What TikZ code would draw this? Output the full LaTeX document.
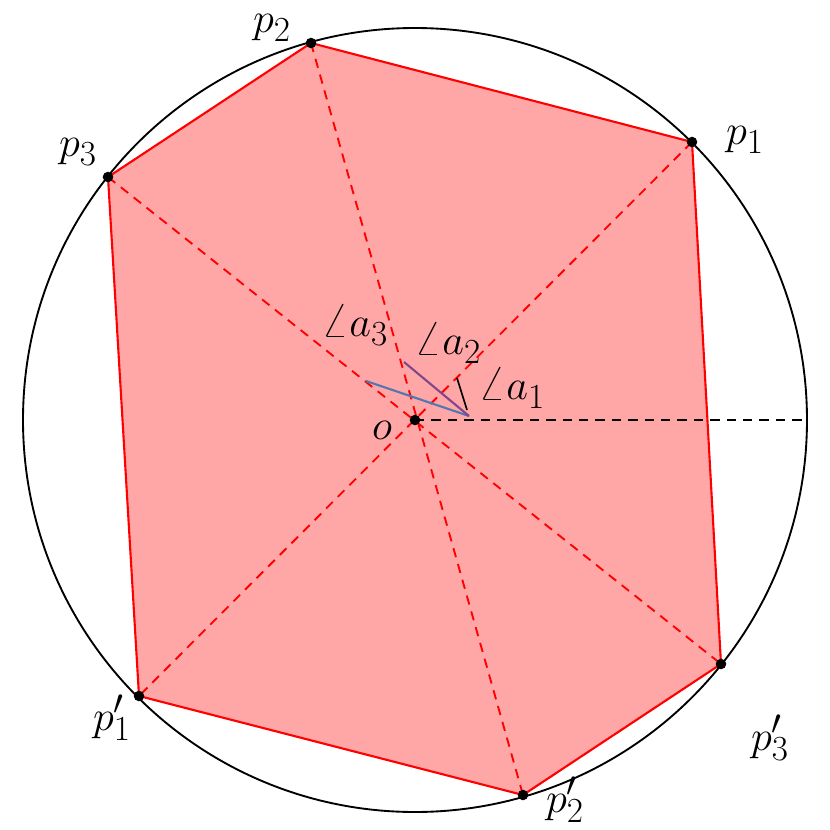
\documentclass[tikz,border=0pt]{standalone}
\begin{document}
\begin{tikzpicture}[x=0.03cm,y=-0.03cm,
  dot/.style={circle,fill=black,inner sep=0pt,minimum size=9pt},
  lab/.style={font=\Huge,scale=1.45},
  rd/.style={red,dashed,line width=1.6pt,dash pattern=on 8pt off 6pt}]
\useasboundingbox (0,0) rectangle (830,830);
\definecolor{bl}{RGB}{80,120,180}
\definecolor{pu}{RGB}{130,70,140}
\coordinate (o) at (415,420);
\coordinate (p1) at (692,142);
\coordinate (p2) at (311,43);
\coordinate (p3) at (108,177);
\coordinate (q1) at (139,696);
\coordinate (q2) at (523,795);
\coordinate (q3) at (721,664);
\coordinate (e) at (807,420);
\fill[red!35!white] (p2)--(p1)--(q3)--(q2)--(q1)--(p3)--cycle;
\draw[black,line width=1.6pt] (o) circle (392);
\draw[red,line width=1.8pt] (p2)--(p1)--(q3)--(q2)--(q1)--(p3)--cycle;
\draw[rd] (p1)--(q1);
\draw[rd] (p2)--(q2);
\draw[rd] (p3)--(q3);
\draw[black,dashed,line width=1.6pt,dash pattern=on 8pt off 6pt] (o)--(e);
\coordinate (v) at (469,416);
\coordinate (b) at (366,381);
\coordinate (pv) at (404,362);
\coordinate (k1) at (457,378);
\coordinate (k2) at (467,410);
\draw[bl,line width=1.8pt] (b)--(v);
\draw[pu,line width=1.8pt] (pv)--(v);
\draw[black,line width=1.4pt] (k1)--(k2);
\foreach \p in {o,p1,p2,p3,q1,q2,q3} \node[dot] at (\p) {};
\node[lab] (lo) at (382,430) {$o$};
\node[lab] (l1) at (745,140) {$p_1$};
\node[lab] (l2) at (272,28) {$p_2$};
\node[lab] (l3) at (78,152) {$p_3$};
\node[lab] (m1) at (112,718) {$p_1'$};
\node[lab] (m2) at (565,800) {$p_2'$};
\node[lab] (m3) at (770,738) {$p_3'$};
\node[lab] (a3) at (355,325) {$\angle a_3$};
\node[lab] (a2) at (448,343) {$\angle a_2$};
\node[lab] (a1) at (512,388) {$\angle a_1$};
\end{tikzpicture}
\end{document}
